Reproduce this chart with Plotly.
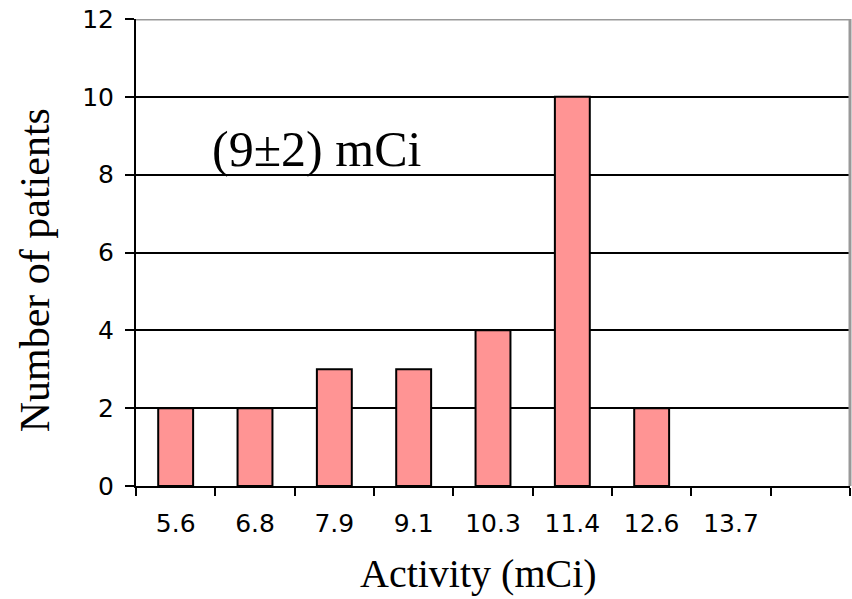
import plotly.graph_objects as go

categories = ["5.6", "6.8", "7.9", "9.1", "10.3", "11.4", "12.6", "13.7", " "]
patients = [2, 2, 3, 3, 4, 10, 2, None, None]
y_ticks = [0, 2, 4, 6, 8, 10, 12]

fig = go.Figure()
fig.add_trace(go.Bar(
    x=categories, y=patients,
    marker=dict(color="#FF9494", line=dict(color="black", width=2)),
    width=0.44,
))

fig.update_layout(
    width=852, height=599,
    margin=dict(l=136, r=2, t=19, b=113),
    plot_bgcolor="white", paper_bgcolor="white",
    showlegend=False,
    font=dict(family="DejaVu Sans", color="black", size=24),
    xaxis=dict(
        type="category", categoryorder="array", categoryarray=categories,
        range=[-0.5, 8.5],
        showline=True, linecolor="black", linewidth=2,
        ticks="outside", tickson="boundaries", ticklen=8, tickwidth=2, tickcolor="black",
        showgrid=False,
        tickfont=dict(family="DejaVu Sans", size=25),
        ticklabelstandoff=14,
    ),
    yaxis=dict(
        range=[0, 12], tickvals=y_ticks,
        showline=True, linecolor="black", linewidth=2,
        ticks="outside", ticklen=9, tickwidth=2, tickcolor="black",
        showgrid=True, gridcolor="black", gridwidth=2,
        zeroline=False,
        tickfont=dict(family="DejaVu Sans", size=25),
        ticklabelstandoff=6,
    ),
    shapes=[
        dict(type="line", xref="paper", yref="y", x0=0, x1=1, y0=12, y1=12,
             line=dict(color="#999999", width=3), layer="above"),
        dict(type="line", xref="paper", yref="paper", x0=1, x1=1, y0=0, y1=1,
             line=dict(color="#999999", width=3), layer="above"),
    ],
    annotations=[
        dict(text="(9±2) mCi", xref="paper", yref="y", x=0.103, y=8.65,
             xanchor="left", yanchor="middle", showarrow=False,
             font=dict(family="Liberation Serif", size=50, color="black")),
        dict(text="Activity (mCi)", xref="paper", yref="paper", x=0.479, y=-0.188,
             xanchor="center", yanchor="middle", showarrow=False,
             font=dict(family="Liberation Serif", size=40, color="black")),
        dict(text="Number of patients", xref="paper", yref="paper", x=-0.141, y=0.4625,
             xanchor="center", yanchor="middle", showarrow=False, textangle=-90,
             font=dict(family="Liberation Serif", size=42, color="black")),
    ],
)

fig.write_html("out.html", config={"displayModeBar": False},
               post_script="document.body.style.margin='0';document.body.style.overflow='hidden';")
